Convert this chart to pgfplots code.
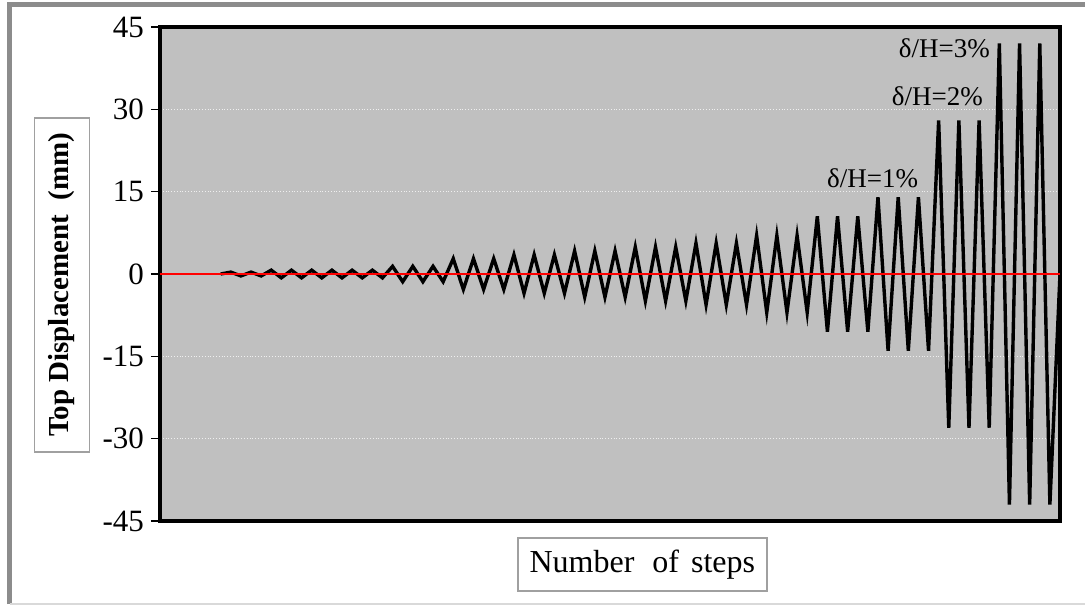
\documentclass[border=0pt]{standalone}
\usepackage{fontspec}
\setmainfont{Liberation Serif}
\usepackage{pgfplots}
\pgfplotsset{compat=1.18}
\definecolor{plotgray}{HTML}{C0C0C0}
\definecolor{framegray}{HTML}{8C8C8C}
\definecolor{boxgray}{HTML}{A0A0A0}

\begin{document}
\begin{tikzpicture}
\useasboundingbox (-80pt,-42.5pt) rectangle (462.5pt,260.5pt);
% outer frame of the chart area
\draw[framegray, line width=2.5pt] (-75pt,-41.5pt) -- (-75pt,258pt) -- (470pt,258pt);
\draw[gray!30, line width=0.8pt] (-75pt,-41.5pt) -- (470pt,-41.5pt);
\begin{axis}[
  at={(0pt,0pt)}, anchor=south west,
  scale only axis, width=450pt, height=247pt,
  xmin=0, xmax=89, ymin=-45, ymax=45,
  xtick=\empty,
  ytick={-45,-30,-15,0,15,30,45},
  yticklabels={-45,-30,-15,0,15,30,45},
  ytick pos=left, tick align=outside,
  major tick length=4.5pt,
  every tick/.style={black, line width=0.8pt},
  tick label style={font=\fontsize{15.5}{18}\selectfont},
  ymajorgrids,
  grid style={densely dotted, white!75!plotgray, line width=0.7pt},
  axis line style={line width=2.2pt},
  axis background/.style={fill=plotgray},
  xlabel={Number\hspace{9pt}of\hspace{6pt}steps},
  xlabel style={at={(axis description cs:0.536,-0.088)}, anchor=center,
                draw=boxgray, line width=0.8pt, fill=white,
                minimum width=124.5pt, minimum height=26.5pt, inner sep=0pt,
                font=\fontsize{16}{19}\selectfont},
  ylabel={\textbf{Top Displacement\ \ (mm)}},
  ylabel style={at={(axis description cs:-0.109,0.478)}, anchor=center,
                draw=boxgray, line width=0.8pt, fill=white,
                minimum width=167pt, minimum height=27.5pt, inner sep=0pt,
                font=\fontsize{14.5}{17}\selectfont},
]
%% displacement history (3 cycles per drift level)
\addplot[black, line width=1.7pt, mark=none] coordinates {
  (6,0)
  (7,0.35)(8,-0.35)(9,0.35)(10,-0.35)
  (11,0.7)(12,-0.7)(13,0.7)(14,-0.7)(15,0.7)(16,-0.7)
  (17,0.7)(18,-0.7)(19,0.7)(20,-0.7)(21,0.7)(22,-0.7)
  (23,1.4)(24,-1.4)(25,1.4)(26,-1.4)(27,1.4)(28,-1.4)
  (29,2.8)(30,-2.8)(31,2.8)(32,-2.8)(33,2.8)(34,-2.8)
  (35,3.5)(36,-3.5)(37,3.5)(38,-3.5)(39,3.5)(40,-3.5)
  (41,4.2)(42,-4.2)(43,4.2)(44,-4.2)(45,4.2)(46,-4.2)
  (47,4.9)(48,-4.9)(49,4.9)(50,-4.9)(51,4.9)(52,-4.9)
  (53,5.6)(54,-5.6)(55,5.6)(56,-5.6)(57,5.6)(58,-5.6)
  (59,7)(60,-7)(61,7)(62,-7)(63,7)(64,-7)
  (65,10.5)(66,-10.5)(67,10.5)(68,-10.5)(69,10.5)(70,-10.5)
  (71,14)(72,-14)(73,14)(74,-14)(75,14)(76,-14)
  (77,28)(78,-28)(79,28)(80,-28)(81,28)(82,-28)
  (83,42)(84,-42)(85,42)(86,-42)(87,42)(88,-42)
  (89,0)
};
%% zero line
\addplot[red, line width=0.8pt, mark=none] coordinates {(0,0) (89,0)};

\node[anchor=east, inner sep=0pt, font=\fontsize{13.5}{15}\selectfont] at (axis cs:82.1,41.2) {δ/H=3\%};
\node[anchor=east, inner sep=0pt, font=\fontsize{13.5}{15}\selectfont] at (axis cs:81.4,32.4) {δ/H=2\%};
\node[anchor=east, inner sep=0pt, font=\fontsize{13.5}{15}\selectfont] at (axis cs:75,17.5) {δ/H=1\%};
\end{axis}
\end{tikzpicture}
\end{document}
